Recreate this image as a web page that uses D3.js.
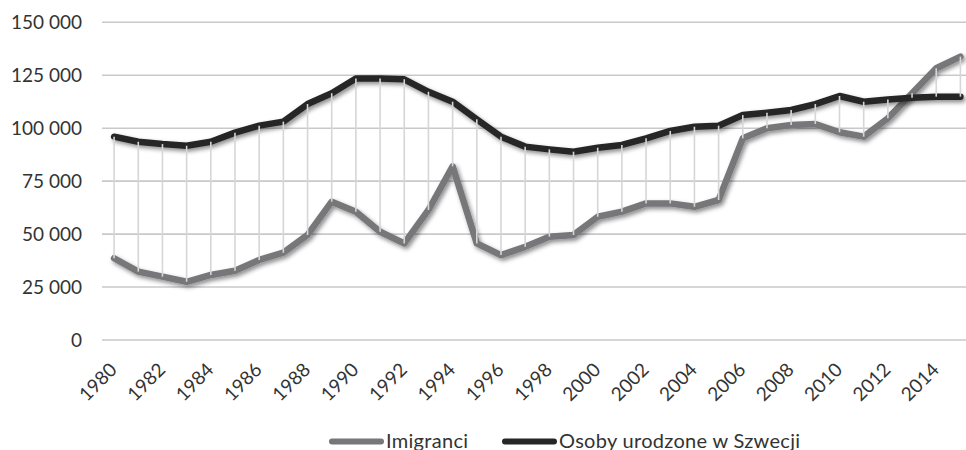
<!DOCTYPE html>
<html>
<head>
<meta charset="utf-8">
<script src="https://cdn.jsdelivr.net/npm/d3@7"></script>
<style>
  body { margin: 0; background: #fff; }
  svg { display: block; font-family: Lato, "Open Sans", sans-serif; }
  .tick-label { font-size: 19px; fill: #333; }
  .legend-label { font-size: 20px; fill: #333; letter-spacing: 0.3px; }
</style>
</head>
<body>
<div id="chart"></div>
<script>
// Immigrants vs. people born in Sweden, 1980-2015 (line chart with high-low lines).
const years = d3.range(1980, 2016);

const immigrants = [
  38600, 32300, 29900, 27500, 30700, 32700, 37800, 41200, 49600, 65300,
  60600, 51100, 45600, 61400, 82000, 45600, 40100, 44000, 48800, 49600,
  58200, 60600, 64500, 64500, 62900, 66100, 95200, 100000, 101500, 102000,
  98100, 96000, 104700, 116500, 128300, 133800
];

const swedishBorn = [
  96000, 93600, 92500, 91700, 93600, 97900, 101200, 103100, 111400, 116500,
  123500, 123500, 123100, 117200, 112500, 104200, 96000, 91300, 90000, 88900,
  90800, 92100, 95200, 98700, 100700, 101200, 106200, 107300, 108600, 111400,
  115200, 112500, 113600, 114400, 114900, 114900
];

const yTicks = [0, 25000, 50000, 75000, 100000, 125000, 150000];
const xLabels = d3.range(1980, 2016, 2);

const seriesNames = ["Imigranci", "Osoby urodzone w Szwecji"];
const seriesColors = ["#77777a", "#262626"];

const width = 966;
const height = 450;
const plot = { left: 102, right: 972.5, top: 22.3, bottom: 340 };

const svg = d3.select("#chart")
  .append("svg")
  .attr("width", width)
  .attr("height", height);

// soft shadow under the thick lines, like the original Excel style
const defs = svg.append("defs");
const shadow = defs.append("filter")
  .attr("id", "shadow")
  .attr("x", "-10%").attr("y", "-20%")
  .attr("width", "130%").attr("height", "150%");
shadow.append("feDropShadow")
  .attr("dx", 2)
  .attr("dy", 2.5)
  .attr("stdDeviation", 2.2)
  .attr("flood-color", "#000")
  .attr("flood-opacity", 0.45);

const x = d3.scaleBand()
  .domain(years)
  .range([plot.left, plot.right])
  .paddingInner(0)
  .paddingOuter(0);

const cx = d => x(d) + x.bandwidth() / 2;

const y = d3.scaleLinear()
  .domain([0, 150000])
  .range([plot.bottom, plot.top]);

const fmt = v => d3.format(",")(v).replace(/,/g, " ");

// horizontal gridlines
svg.append("g")
  .selectAll("line")
  .data(yTicks)
  .join("line")
  .attr("x1", plot.left)
  .attr("x2", plot.right)
  .attr("y1", d => y(d))
  .attr("y2", d => y(d))
  .attr("stroke", "#c9c9c9")
  .attr("stroke-width", 1.6);

// y axis labels
svg.append("g")
  .selectAll("text")
  .data(yTicks)
  .join("text")
  .attr("class", "tick-label")
  .attr("x", 82)
  .attr("y", d => y(d) + 7)
  .attr("text-anchor", "end")
  .text(d => fmt(d));

// x axis labels, rotated
svg.append("g")
  .selectAll("text")
  .data(xLabels)
  .join("text")
  .attr("class", "tick-label")
  .attr("text-anchor", "end")
  .attr("transform", d => `translate(${cx(d) + 4}, 371) rotate(-45)`)
  .text(d => d);

const line = d3.line()
  .x((d, i) => cx(years[i]))
  .y(d => y(d));

[immigrants, swedishBorn].forEach((vals, k) => {
  svg.append("path")
    .datum(vals)
    .attr("d", line)
    .attr("fill", "none")
    .attr("stroke", seriesColors[k])
    .attr("stroke-width", 6.5)
    .attr("stroke-linejoin", "round")
    .attr("stroke-linecap", "round")
    .attr("filter", "url(#shadow)");
});

// high-low lines between the two series
svg.append("g")
  .selectAll("line")
  .data(years)
  .join("line")
  .attr("x1", d => cx(d))
  .attr("x2", d => cx(d))
  .attr("y1", (d, i) => y(swedishBorn[i]))
  .attr("y2", (d, i) => y(immigrants[i]))
  .attr("stroke", "#d6d6d6")
  .attr("stroke-width", 1.6);

// legend
const legendX = [329, 502];
const legend = svg.append("g")
  .selectAll("g")
  .data(seriesNames)
  .join("g")
  .attr("transform", (d, i) => `translate(${legendX[i]}, 441.5)`);

legend.append("line")
  .attr("x1", 3)
  .attr("x2", 52)
  .attr("stroke", (d, i) => seriesColors[i])
  .attr("stroke-width", 6)
  .attr("stroke-linecap", "round");

legend.append("text")
  .attr("class", "legend-label")
  .attr("x", 57)
  .attr("y", 6)
  .text(d => d);
</script>
</body>
</html>
